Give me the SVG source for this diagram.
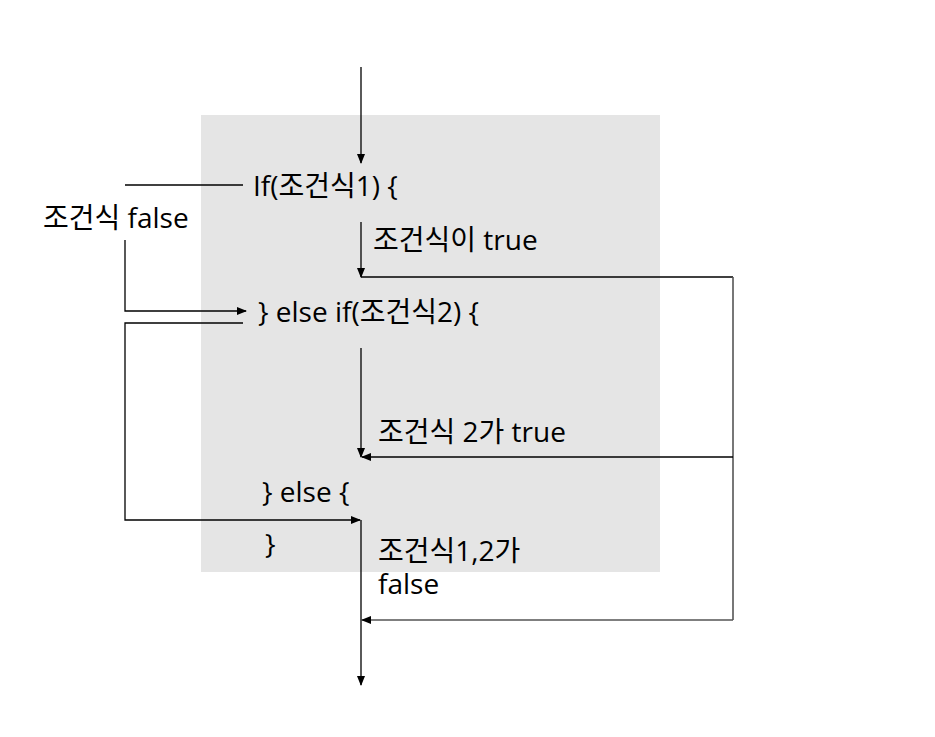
<svg xmlns="http://www.w3.org/2000/svg" width="935" height="737" viewBox="0 0 935 737">
<style>
.t{font-family:"Open Sans","Noto Sans CJK KR",sans-serif;font-size:28px;fill:#000}
.c{fill:none;stroke:#000;stroke-width:1.3}
.g{fill:none;stroke:#555;stroke-width:1.6}
</style>
<defs>
<marker id="a" markerWidth="10" markerHeight="8" refX="9" refY="4" orient="auto" markerUnits="userSpaceOnUse">
<path d="M0,0 L10,4 L0,8 Z" fill="#000"/>
</marker>
</defs>
<rect width="935" height="737" fill="#fff"/>
<rect id="block" x="201" y="115" width="459" height="457" fill="#e5e5e5"/>
<g id="connectors">
<path class="c" d="M361,67 V163" marker-end="url(#a)"/>
<path class="c" d="M125,185 H243"/>
<path class="c" d="M125,240 V311 H246" marker-end="url(#a)"/>
<path class="c" d="M361,222 V277" marker-end="url(#a)"/>
<path class="c" d="M361,277 H733"/>
<path class="g" d="M733,277 V620"/>
<path class="c" d="M733,457 H362" marker-end="url(#a)"/>
<path class="g" d="M733,620 H362" marker-end="url(#a)"/>
<path class="c" d="M361,348 V457" marker-end="url(#a)"/>
<path class="c" d="M243,323 H125 V520 H360" marker-end="url(#a)"/>
<path class="c" d="M361,520 V685" marker-end="url(#a)"/>
</g>
<g id="n-if"><text class="t" x="253" y="196">If(조건식1) {</text></g>
<g id="n-elseif"><text class="t" x="258" y="322">} else if(조건식2) {</text></g>
<g id="n-else"><text class="t" x="262" y="502">} else {</text></g>
<g id="n-close"><text class="t" x="265" y="554">}</text></g>
<g id="l-false"><text class="t" x="43" y="228">조건식 false</text></g>
<g id="l-true1"><text class="t" x="373" y="250">조건식이 true</text></g>
<g id="l-true2"><text class="t" x="378" y="442">조건식 2가 true</text></g>
<g id="l-false2"><text class="t" x="378" y="561">조건식1,2가<tspan x="378" y="594">false</tspan></text></g>
</svg>
